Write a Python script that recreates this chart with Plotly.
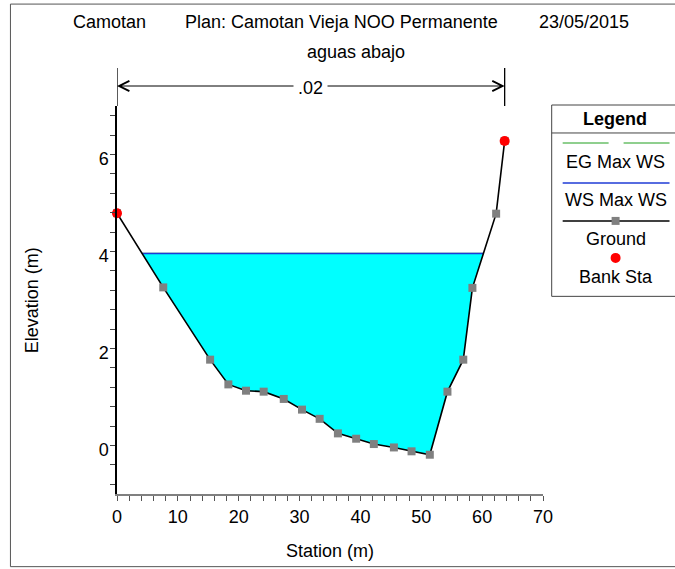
import numpy as np
import plotly.graph_objects as go

# Cross-section survey (station, elevation) in metres
station = [0.0, 7.6, 15.3, 18.3, 21.2, 24.1, 27.4, 30.4, 33.3, 36.3, 39.3,
           42.2, 45.5, 48.4, 51.4, 54.3, 56.9, 58.4, 62.3, 63.7]
elevation = [4.79, 3.26, 1.77, 1.26, 1.13, 1.11, 0.96, 0.74, 0.55, 0.25, 0.14,
             0.03, -0.04, -0.12, -0.19, 1.11, 1.77, 3.25, 4.78, 6.28]

# Bank stations
bank_station = [0.0, 63.7]
bank_elev = [4.79, 6.28]

# Computed profiles
ws_elev = 3.96   # WS Max WS
eg_elev = 3.965  # EG Max WS
mannings_n = ".02"

title_parts = ["Camotan", "Plan: Camotan Vieja NOO Permanente", "23/05/2015"]
subtitle = "aguas abajo"
x_ticks = [0, 10, 20, 30, 40, 50, 60, 70]
y_ticks = [0, 2, 4, 6]

FONT = "Liberation Sans, Arial, sans-serif"
W, H = 675, 569
L, R, T, B = 116.7, 543.3, 106.0, 494.3


def px(x):
    return (x - L) / (R - L)


def py(y):
    return (B - y) / (B - T)


def label(x, y, text, xanchor="center", yanchor="middle", **kw):
    d = dict(x=x, y=y, xref="paper", yref="paper", text=text, showarrow=False,
             xanchor=xanchor, yanchor=yanchor,
             font=dict(family=FONT, size=18, color="black"))
    d.update(kw)
    return d


# water edges where the water surface meets the ground
st = np.array(station)
el = np.array(elevation)
wet = np.where(el < ws_elev)[0]
i0, i1 = wet[0], wet[-1]
xl = np.interp(ws_elev, [el[i0], el[i0 - 1]], [st[i0], st[i0 - 1]])
xr = np.interp(ws_elev, [el[i1], el[i1 + 1]], [st[i1], st[i1 + 1]])
fill_x = [xl] + list(st[i0:i1 + 1]) + [xr]
fill_y = [ws_elev] + list(el[i0:i1 + 1]) + [ws_elev]

fig = go.Figure()
fig.add_trace(go.Scatter(x=fill_x, y=fill_y, fill="toself", fillcolor="#00ffff",
                         mode="lines", line=dict(width=0), hoverinfo="skip"))
fig.add_trace(go.Scatter(x=[xl, xr], y=[eg_elev, eg_elev], mode="lines",
                         line=dict(color="#6abf69", width=1), name="EG Max WS"))
fig.add_trace(go.Scatter(x=[xl, xr], y=[ws_elev, ws_elev], mode="lines",
                         line=dict(color="#1f3bd6", width=1.5), name="WS Max WS"))
fig.add_trace(go.Scatter(x=station, y=elevation, mode="lines+markers",
                         line=dict(color="black", width=1.6),
                         marker=dict(symbol="square", size=8, color="#808080",
                                     line=dict(width=0)),
                         name="Ground", cliponaxis=False))
fig.add_trace(go.Scatter(x=bank_station, y=bank_elev, mode="markers",
                         marker=dict(symbol="circle", size=10, color="#ff0000",
                                     line=dict(width=0)),
                         name="Bank Sta", cliponaxis=False))

fig.update_xaxes(range=[0, 70], tickvals=x_ticks, ticks="outside", ticklen=5,
                 tickcolor="#555555", showline=True, linecolor="#808080",
                 linewidth=1.5, showgrid=False, zeroline=False,
                 tickfont=dict(family=FONT, size=18, color="black"),
                 minor=dict(dtick=2, ticks="outside", ticklen=5, tickcolor="#555555"),
                 ticklabelstandoff=1)
fig.update_yaxes(range=[-1, 7], tickvals=y_ticks, ticks="outside", ticklen=5,
                 tickcolor="#444444", showline=True, linecolor="black",
                 linewidth=1.5, showgrid=False, zeroline=False,
                 tickfont=dict(family=FONT, size=18, color="black"),
                 minor=dict(dtick=0.4, ticks="outside", ticklen=5, tickcolor="#444444"),
                 ticklabelstandoff=-2, ticklabelshift=4)

shapes = []
ann = []

# outer frame
shapes.append(dict(type="rect", xref="paper", yref="paper",
                   x0=px(10), x1=px(700), y0=py(567), y1=py(4),
                   line=dict(color="#555555", width=1)))

# Manning's n bracket between bank stations
y_top, y_bot, y_arr = py(68), py(106), py(86)
for s in bank_station:
    shapes.append(dict(type="line", xref="x", yref="paper", x0=s, x1=s,
                       y0=y_bot, y1=y_top, line=dict(color="black", width=1.3)))
mid = (bank_station[0] + bank_station[1]) / 2
for s in bank_station:
    ann.append(dict(x=s, y=y_arr, xref="x", yref="paper", text="",
                    xanchor="center", yanchor="middle",
                    showarrow=True, ax=mid, ay=0, axref="x", ayref="pixel",
                    arrowhead=5, arrowsize=2, arrowwidth=1, arrowcolor="black",
                    standoff=0, startstandoff=0))
ann.append(dict(x=mid, y=py(88), xref="x", yref="paper", text=mannings_n,
                xanchor="center", yanchor="middle",
                showarrow=False, bgcolor="white", borderpad=4,
                font=dict(family=FONT, size=18, color="black")))

# titles
ann.append(label(px(71), py(22), title_parts[0], xanchor="left"))
ann.append(label(px(183), py(22), title_parts[1], xanchor="left"))
ann.append(label(px(537), py(22), title_parts[2], xanchor="left"))
ann.append(label(px(356), py(52), subtitle))

# axis titles
ann.append(label(0.5, py(551), "Station (m)"))
ann.append(label(px(31), py(300), "Elevation (m)", textangle=-90))

# legend panel
shapes.append(dict(type="rect", xref="paper", yref="paper",
                   x0=px(552), x1=px(700), y0=py(296.5), y1=py(105),
                   line=dict(color="#444444", width=1), fillcolor="white"))
shapes.append(dict(type="line", xref="paper", yref="paper",
                   x0=px(552), x1=px(700), y0=py(133), y1=py(133),
                   line=dict(color="#444444", width=1)))
ann.append(label(px(615), py(119), "<b>Legend</b>"))
lx0, lx1, lc = 563, 670, 616
for a, b in [(lx0, 609), (624, lx1)]:
    shapes.append(dict(type="line", xref="paper", yref="paper", x0=px(a), x1=px(b),
                       y0=py(143), y1=py(143), line=dict(color="#6abf69", width=1.5)))
shapes.append(dict(type="line", xref="paper", yref="paper", x0=px(lx0), x1=px(lx1),
                   y0=py(183), y1=py(183), line=dict(color="#1f3bd6", width=1.5)))
shapes.append(dict(type="line", xref="paper", yref="paper", x0=px(lx0), x1=px(lx1),
                   y0=py(221), y1=py(221), line=dict(color="black", width=1.5)))
shapes.append(dict(type="rect", xref="paper", yref="paper", x0=px(lc - 4), x1=px(lc + 4),
                   y0=py(225), y1=py(217), line=dict(width=0), fillcolor="#808080"))
shapes.append(dict(type="circle", xref="paper", yref="paper", x0=px(lc - 5), x1=px(lc + 5),
                   y0=py(263), y1=py(253), line=dict(width=0), fillcolor="#ff0000"))
for text, yy in [("EG Max WS", 162), ("WS Max WS", 200), ("Ground", 239), ("Bank Sta", 277)]:
    ann.append(label(px(lc), py(yy), text))

fig.update_layout(width=W, height=H, showlegend=False,
                  margin=dict(l=L, r=W - R, t=T, b=H - B, pad=0),
                  plot_bgcolor="white", paper_bgcolor="white",
                  shapes=shapes, annotations=ann)

fig.write_html("out.html")
